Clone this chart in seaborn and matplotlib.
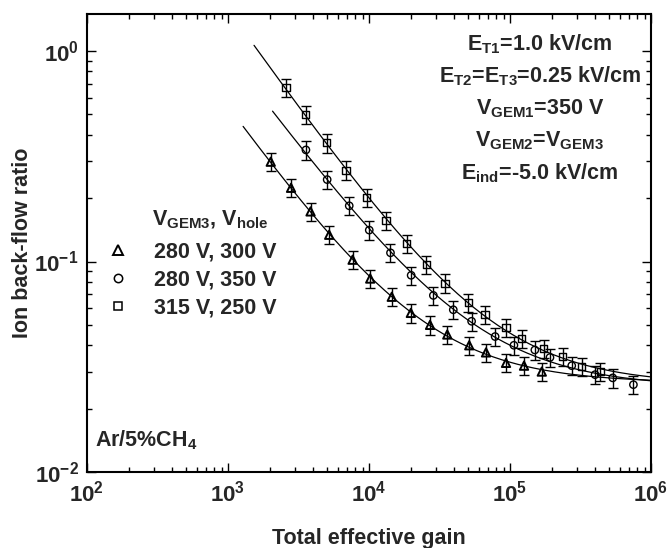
import numpy as np
import pandas as pd
import matplotlib
matplotlib.use("Agg")
import matplotlib.pyplot as plt
from matplotlib.lines import Line2D
from matplotlib.ticker import LogLocator, NullFormatter
import seaborn as sns

# ion back-flow vs total effective gain, three GEM settings
tri_gain = [2010, 2800, 3850, 5220, 7650, 10200, 14500, 19800, 27100, 35900,
            51400, 67600, 93700, 125700, 168000]
tri_ibf = [0.298, 0.224, 0.173, 0.134, 0.102, 0.083, 0.068, 0.057, 0.050, 0.045,
           0.040, 0.037, 0.033, 0.032, 0.030]

circ_gain = [3570, 5050, 7240, 10040, 14200, 19900, 28600, 39600, 53400, 78400,
             106600, 150000, 192000, 274000, 401000, 535000, 750000]
circ_ibf = [0.339, 0.245, 0.184, 0.141, 0.110, 0.086, 0.069, 0.059, 0.052, 0.044,
            0.040, 0.038, 0.035, 0.032, 0.029, 0.028, 0.026]

sq_gain = [2580, 3570, 5010, 6870, 9600, 13200, 18500, 25400, 34600, 50600,
           66500, 93700, 121000, 174000, 236000, 322000, 435000]
sq_ibf = [0.67, 0.50, 0.366, 0.272, 0.202, 0.157, 0.122, 0.097, 0.079, 0.064,
          0.056, 0.0485, 0.043, 0.0387, 0.0353, 0.0316, 0.030]

labels = ["280 V, 300 V", "280 V, 350 V", "315 V, 250 V"]
rel_err = 0.10
# where each fitted curve starts (gain)
fit_start = [1280, 2070, 1530]


def fit_curve(gain, ibf, x0):
    """fit ibf = a*gain^-b + c (relative least squares) and return a smooth curve"""
    g = np.asarray(gain, float)
    y = np.asarray(ibf, float)
    best = None
    for b in np.linspace(0.2, 2.0, 361):
        A = np.column_stack([g ** -b, np.ones_like(g)]) / y[:, None]
        coef, *_ = np.linalg.lstsq(A, np.ones_like(y), rcond=None)
        res = np.sum((A @ coef - 1) ** 2)
        if best is None or res < best[0]:
            best = (res, b, coef)
    _, b, (a, c) = best
    xs = np.logspace(np.log10(x0), 6, 200)
    return xs, a * xs ** -b + c


sns.set_style("ticks")
plt.rcParams["font.family"] = ["Liberation Sans", "DejaVu Sans"]
plt.rcParams["font.weight"] = "bold"
plt.rcParams["mathtext.fontset"] = "custom"
plt.rcParams["mathtext.rm"] = "Liberation Sans:bold"
plt.rcParams["mathtext.bf"] = "Liberation Sans:bold"
plt.rcParams["mathtext.it"] = "Liberation Sans:bold"
plt.rcParams["mathtext.default"] = "regular"
plt.rcParams["axes.unicode_minus"] = False

fig = plt.figure(figsize=(6.68, 5.48), dpi=100)
ax = fig.add_axes([0.1302, 0.1387, 0.8444, 0.8358])

series = [(tri_gain, tri_ibf, "^", 36, 1.4),
          (circ_gain, circ_ibf, "o", 28, 1.0),
          (sq_gain, sq_ibf, "s", 26, 1.0)]

for (gain, ibf, mk, size, lw), x0 in zip(series, fit_start):
    xs, ys = fit_curve(gain, ibf, x0)
    sns.lineplot(x=xs, y=ys, color="black", linewidth=0.9, ax=ax)
    ibf = np.asarray(ibf)
    ax.errorbar(gain, ibf, yerr=rel_err * ibf, fmt="none", ecolor="black",
                elinewidth=1.0, capsize=3.3, capthick=1.0)
    sns.scatterplot(x=gain, y=ibf, marker=mk, s=size, facecolor="none",
                    edgecolor="black", linewidth=lw, ax=ax, zorder=3)

ax.set_xscale("log")
ax.set_yscale("log")
ax.set_xlim(1e2, 1e6)
ax.set_ylim(1e-2, 1.5)

for sp in ax.spines.values():
    sp.set_linewidth(1.5)
    sp.set_color("black")
ax.tick_params(which="both", direction="in", top=True, right=True,
               color="black", width=1.0)
ax.tick_params(which="major", length=6.3, labelsize=16, pad=6)
ax.tick_params(which="minor", length=3.6)
ax.xaxis.set_minor_locator(LogLocator(base=10, subs=np.arange(2, 10)))
ax.yaxis.set_minor_locator(LogLocator(base=10, subs=np.arange(2, 10)))
ax.xaxis.set_minor_formatter(NullFormatter())
ax.yaxis.set_minor_formatter(NullFormatter())

ax.set_xlabel("Total effective gain", fontsize=15.5, fontweight="bold", labelpad=16)
ax.set_ylabel("Ion back-flow ratio", fontsize=15.5, fontweight="bold", labelpad=1)

# conditions block
cond = ["E$_{T1}$=1.0 kV/cm",
        "E$_{T2}$=E$_{T3}$=0.25 kV/cm",
        "V$_{GEM1}$=350 V",
        "V$_{GEM2}$=V$_{GEM3}$",
        "E$_{ind}$=-5.0 kV/cm"]
for i, t in enumerate(cond):
    ax.text(0.803, 0.934 - i * 0.0705, t, transform=ax.transAxes, ha="center",
            va="center", fontsize=15.5, fontweight="bold")

ax.text(0.115, 0.551, "V$_{GEM3}$, V$_{hole}$", transform=ax.transAxes,
        ha="left", va="center", fontsize=15.5, fontweight="bold")
ax.text(0.015, 0.07, "Ar/5%CH$_4$", transform=ax.transAxes, ha="left",
        va="center", fontsize=15.5, fontweight="bold")

handles = [Line2D([], [], linestyle="none", marker=m, markersize=7.5 if m == "^" else 6,
                  markerfacecolor="none", markeredgecolor="black",
                  markeredgewidth=1.4 if m == "^" else 1.1)
           for m in ["^", "o", "s"]]
leg = ax.legend(handles, labels, loc="upper left", bbox_to_anchor=(0.02, 0.522),
                frameon=False, fontsize=15.5, handlelength=1.0,
                handletextpad=1.2, labelspacing=0.32, borderaxespad=0)

fig.savefig("out.png", dpi=100)
